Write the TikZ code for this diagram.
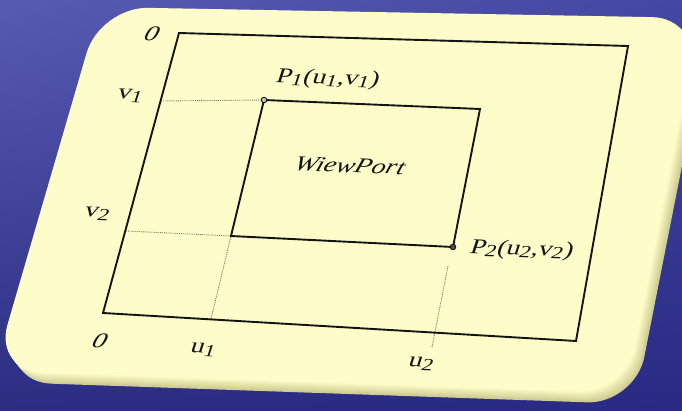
\documentclass[tikz,border=0pt]{standalone}
\usepackage{fontspec}
\setmainfont{Liberation Serif}
\usepackage{xcolor}
\usepackage{tikz}
\usetikzlibrary{shadings}

\definecolor{bgtl}{HTML}{585BB2}
\definecolor{bgtr}{HTML}{4548A2}
\definecolor{bgbl}{HTML}{2A2D80}
\definecolor{bgbr}{HTML}{282A84}
\definecolor{cardcream}{HTML}{FEFDC9}
\definecolor{cardedge}{HTML}{AFA96C}
\definecolor{inkdark}{HTML}{141414}
\definecolor{guidegray}{HTML}{77765C}

\newcommand\cardoutline{(100,7) -- (700,18) -- (626,393) -- (-6,371) -- cycle}
\newcommand\lo[1]{\raisebox{-0.3ex}{\fontsize{17}{17}\selectfont #1}}

\begin{document}
\begin{tikzpicture}[x=1pt,y=-1pt,
    rectline/.style={draw=inkdark, line width=1.9pt},
    guideline/.style={draw=guidegray, densely dotted, line width=0.9pt},
    lbl/.style={text=inkdark, font=\fontsize{21}{23}\selectfont, inner sep=0pt,
      xscale=1.34, xslant=0.2, rotate=-2.5},
    pdot/.style={circle, draw=inkdark, line width=0.9pt, inner sep=0pt, minimum size=5.5pt}]
    \path[use as bounding box, clip] (0,0) rectangle (682,411);
    \shade[upper left=bgtl, upper right=bgtr, lower left=bgbl, lower right=bgbr]
      (0,0) rectangle (682,411);

    % card with its bevel
    \foreach \k in {10,9,...,1}{
      \pgfmathtruncatemacro\mix{100-6*\k}
      \fill[cardcream!\mix!cardedge, shift={(0.9*\k,1.1*\k)}, rounded corners=48] \cardoutline;
    }
    \fill[cardcream, rounded corners=48] \cardoutline;

    % window and viewport corners
    \coordinate (O0) at (179,33);
    \coordinate (OTR) at (628,46);
    \coordinate (OBR) at (576,341);
    \coordinate (OBL) at (103,313);
    \coordinate (P1) at (264,100);
    \coordinate (VTR) at (480,109);
    \coordinate (P2) at (453,247);
    \coordinate (VBL) at (231,236);
    \coordinate (v1) at (161,101);
    \coordinate (v2) at (126,231);
    \coordinate (u1) at (211,319);
    \coordinate (u2a) at (448,266);
    \coordinate (u2b) at (432,347);

    \draw[guideline] (v1) -- (P1);
    \draw[guideline] (v2) -- (VBL) -- (u1);
    \draw[guideline] (u2a) -- (u2b);
    \draw[rectline] (O0) -- (OTR) -- (OBR) -- (OBL) -- cycle;
    \draw[rectline] (P1) -- (VTR) -- (P2) -- (VBL) -- cycle;
    \node[pdot, fill=cardcream!55!gray] (P1dot) at (P1) {};
    \node[pdot, fill=inkdark!75] (P2dot) at (P2) {};

    \node[lbl] (zeroTop) at (152,34) {\itshape 0};
    \node[lbl] (v1lbl) at (130,96) {v\lo{1}};
    \node[lbl] (v2lbl) at (97,214) {v\lo{2}};
    \node[lbl] (zeroBot) at (100,341) {\itshape 0};
    \node[lbl] (u1lbl) at (203,350) {u\lo{1}};
    \node[lbl] (u2lbl) at (421,364) {u\lo{2}};
    \node[lbl] (P1lbl) at (328,79) {P\lo{1}(u\lo{1},v\lo{1})};
    \node[lbl] (P2lbl) at (522,250) {P\lo{2}(u\lo{2},v\lo{2})};
    \node[lbl] (vplbl) at (350,166) {\itshape WiewPort};
\end{tikzpicture}
\end{document}
